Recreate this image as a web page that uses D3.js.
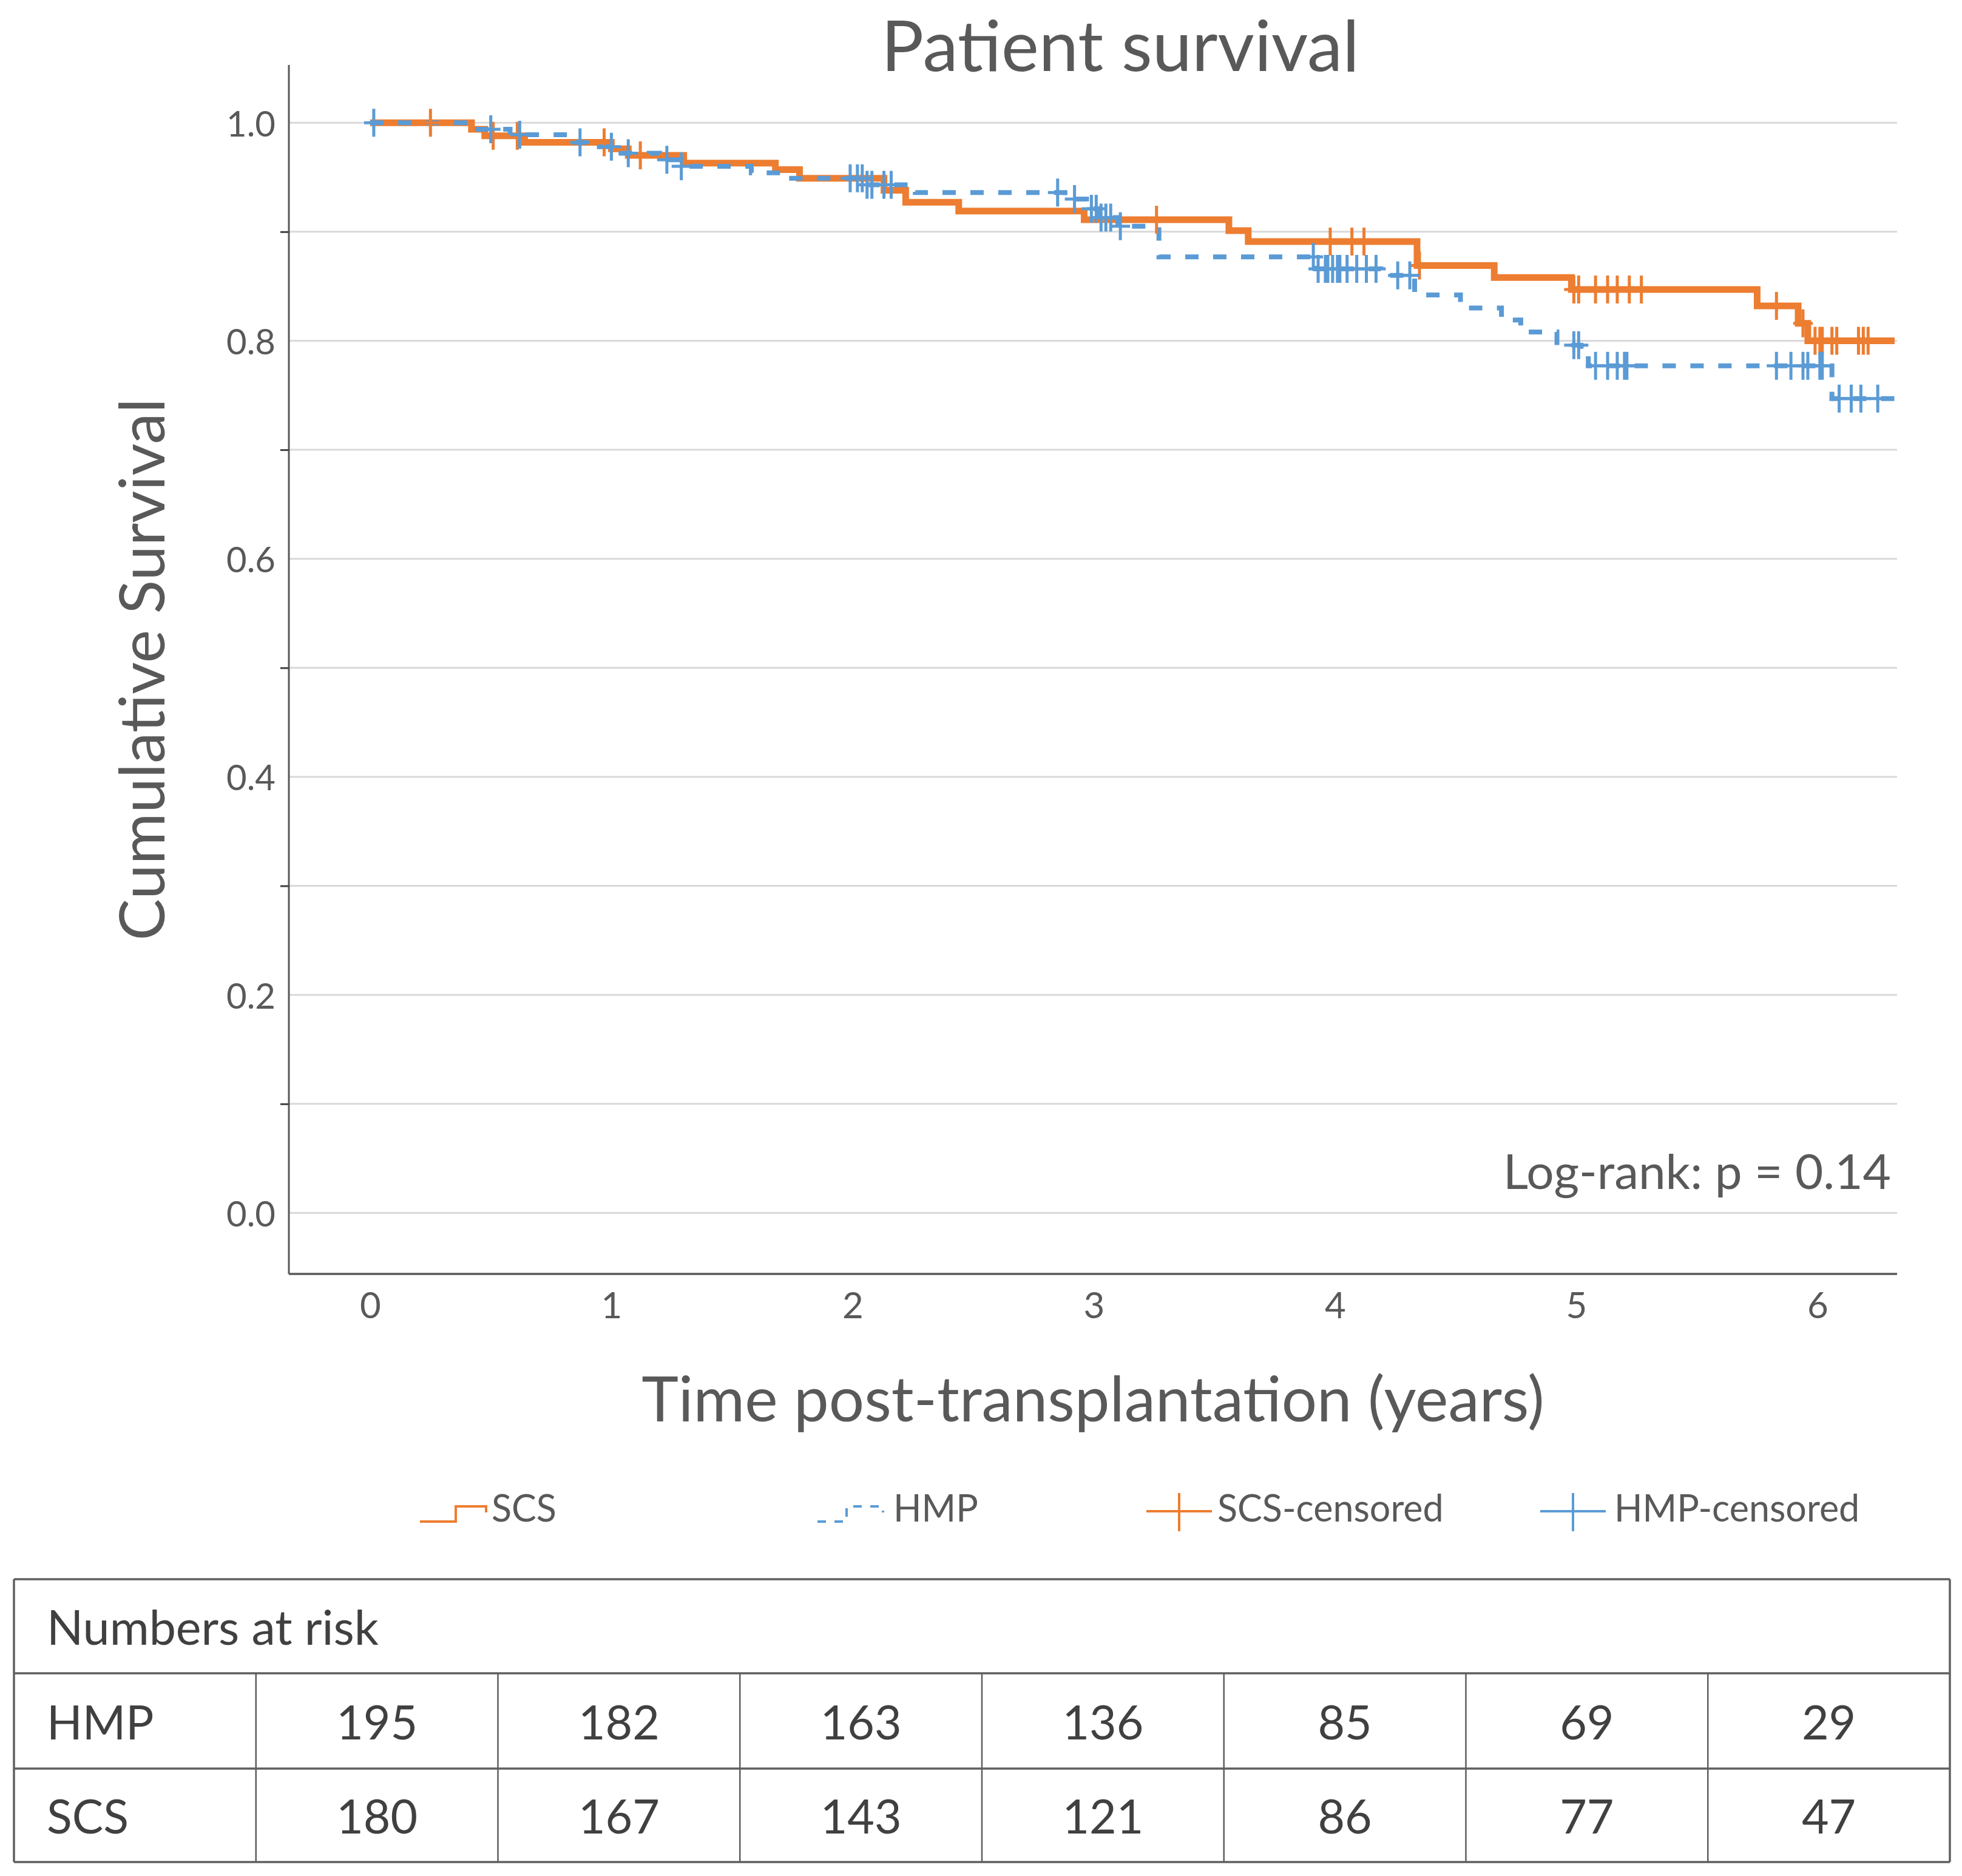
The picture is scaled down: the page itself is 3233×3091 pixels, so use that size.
<!DOCTYPE html>
<html>
<head>
<meta charset="utf-8">
<script src="https://cdn.jsdelivr.net/npm/d3@7"></script>
<style>
  body { margin: 0; background: #fff; }
  text { font-family: Lato, "Open Sans", sans-serif; }
</style>
</head>
<body>
<script>
// Kaplan-Meier steps (time in years, survival after the step)
var scsTimes = [0, 0.42, 0.475, 0.64, 1.0, 1.07, 1.30, 1.68, 1.78, 2.13, 2.22, 2.44, 2.96, 3.56, 3.64, 4.34, 4.66, 4.98, 5.75, 5.92, 5.96, 6.32];
var scsSurv  = [1.0, 0.994, 0.988, 0.982, 0.976, 0.970, 0.963, 0.957, 0.949, 0.938, 0.927, 0.919, 0.911, 0.901, 0.891, 0.869, 0.858, 0.847, 0.832, 0.816, 0.800, 0.800];

var hmpTimes = [0, 0.42, 0.58, 0.85, 0.95, 1.02, 1.20, 1.29, 1.58, 1.72, 2.05, 2.26, 2.88, 2.97, 3.02, 3.10, 3.27, 3.92, 4.19, 4.33, 4.52, 4.69, 4.77, 4.92, 5.02, 5.05, 6.06, 6.32];
var hmpSurv  = [1.0, 0.994, 0.989, 0.982, 0.978, 0.972, 0.966, 0.960, 0.954, 0.949, 0.943, 0.936, 0.930, 0.921, 0.913, 0.905, 0.877, 0.866, 0.860, 0.842, 0.830, 0.819, 0.808, 0.796, 0.788, 0.777, 0.747, 0.747];

// censored times
var scsCens = [0.25, 0.51, 0.61, 0.97, 1.12, 3.26, 3.98, 4.07, 4.12, 4.35, 4.99, 5.01, 5.08, 5.13, 5.17, 5.22, 5.27, 5.83, 5.94, 5.99, 6.01, 6.02, 6.06, 6.08, 6.17, 6.19, 6.21];
var hmpCens = [0.015, 0.50, 0.62, 0.87, 1.0, 1.07, 1.23, 1.29, 1.99, 2.02, 2.04, 2.06, 2.08, 2.13, 2.16, 2.85, 2.92, 2.99, 3.01, 3.03, 3.05, 3.07, 3.11,
               3.91, 3.93, 3.96, 3.97, 3.99, 4.01, 4.02, 4.05, 4.09, 4.13, 4.17, 4.26, 4.31, 4.99, 5.01, 5.08, 5.13, 5.17, 5.20, 5.21,
               5.83, 5.89, 5.94, 5.96, 6.01, 6.02, 6.09, 6.14, 6.18, 6.25];

var xTicks = [0, 1, 2, 3, 4, 5, 6];
var yLabelTicks = [0.0, 0.2, 0.4, 0.6, 0.8, 1.0];
var yMinorTicks = [0.1, 0.3, 0.5, 0.7, 0.9];
var yGrid = [0.0, 0.1, 0.2, 0.3, 0.4, 0.5, 0.6, 0.7, 0.8, 0.9, 1.0];

var riskCols = ["", "0", "1", "2", "3", "4", "5", "6"];
var riskGroups = ["HMP", "SCS"];
var riskHMP = [195, 182, 163, 136, 85, 69, 29];
var riskSCS = [180, 167, 143, 121, 86, 77, 47];

var legendLabels = ["SCS", "HMP", "SCS-censored", "HMP-censored"];

var orange = "#ED7D31", blue = "#5B9BD5", grey = "#595959", grid = "#d9d9d9";

var W = 3233, H = 3091;
var plot = {left: 476, right: 3126, top: 107, bottom: 2099};

var svg = d3.select("body").append("svg")
  .attr("width", W).attr("height", H);

var x = d3.scaleLinear().domain([-0.337, 6.33]).range([plot.left, plot.right]);
var y = d3.scaleLinear().domain([-0.056, 1.053]).range([plot.bottom, plot.top]);

// gridlines
svg.append("g").selectAll("line").data(yGrid).enter().append("line")
  .attr("x1", plot.left).attr("x2", plot.right)
  .attr("y1", d => y(d)).attr("y2", d => y(d))
  .style("stroke", grid).style("stroke-width", 3);

// y axis, only the odd values get a tick mark
var yAxis = svg.append("g").attr("transform", `translate(${plot.left},0)`)
  .call(d3.axisLeft(y).tickValues(yMinorTicks).tickSize(14).tickFormat(""));
yAxis.select(".domain").attr("d", `M0,${plot.top}V${plot.bottom}`)
  .style("stroke", grey).style("stroke-width", 3);
yAxis.selectAll(".tick line").style("stroke", "#404040").style("stroke-width", 3);

svg.append("g").selectAll("text").data(yLabelTicks).enter().append("text")
  .attr("x", 454).attr("y", d => y(d))
  .attr("text-anchor", "end").attr("dominant-baseline", "central")
  .style("font-size", "58px").style("fill", grey)
  .text(d => d.toFixed(1));

// x axis
var xAxis = svg.append("g").attr("transform", `translate(0,${plot.bottom})`)
  .call(d3.axisBottom(x).tickValues(xTicks).tickSize(0).tickPadding(0).tickFormat(d3.format("d")));
xAxis.select(".domain").attr("d", `M${plot.left},0H${plot.right}`)
  .style("stroke", grey).style("stroke-width", 3.5);
xAxis.selectAll(".tick text")
  .attr("y", 73).attr("dy", null)
  .style("font-size", "60px").style("font-family", "Lato, sans-serif").style("fill", grey);

// curves
function stepPoints(times, surv) {
  return times.map((t, i) => [t, surv[i]]);
}
function survAt(times, surv, t) {
  return surv[Math.max(0, d3.bisectRight(times, t) - 1)];
}
var stepLine = d3.line().x(d => x(d[0])).y(d => y(d[1])).curve(d3.curveStepAfter);

svg.append("path").datum(stepPoints(scsTimes, scsSurv))
  .attr("d", stepLine)
  .style("fill", "none").style("stroke", orange).style("stroke-width", 11);

svg.append("path").datum(stepPoints(hmpTimes, hmpSurv))
  .attr("d", stepLine)
  .style("fill", "none").style("stroke", blue).style("stroke-width", 8)
  .style("stroke-dasharray", "22,24");

function crosses(times, surv, cens, color) {
  var g = svg.append("g");
  g.selectAll("path").data(cens).enter().append("path")
    .attr("d", t => {
      var cx = x(t), cy = y(survAt(times, surv, t));
      return `M${cx - 16},${cy}H${cx + 16}M${cx},${cy - 23}V${cy + 23}`;
    })
    .style("fill", "none").style("stroke", color).style("stroke-width", 5);
}
crosses(scsTimes, scsSurv, scsCens, orange);
crosses(hmpTimes, hmpSurv, hmpCens, blue);

// titles
svg.append("text").attr("x", 1846).attr("y", 117)
  .attr("text-anchor", "middle")
  .style("font-size", "117px").style("fill", grey)
  .text("Patient survival");

svg.append("text")
  .attr("transform", "translate(231,1103) rotate(-90)")
  .attr("text-anchor", "middle").attr("dominant-baseline", "central")
  .style("font-size", "103px").style("fill", grey)
  .text("Cumulative Survival");

svg.append("text").attr("x", (plot.left + plot.right) / 2).attr("y", 2342)
  .attr("text-anchor", "middle")
  .style("font-size", "103px").style("fill", grey)
  .text("Time post-transplantation (years)");

svg.append("text").attr("x", 3116).attr("y", 1959)
  .attr("text-anchor", "end")
  .style("font-size", "80px").style("fill", grey)
  .text("Log-rank: p = 0.14");

// legend
var legX = [692, 1347, 1889, 2538];
var leg = svg.append("g");
var ly = 2507;
leg.append("path").attr("d", `M${legX[0]},${ly}H${legX[0] + 59}V${ly - 25}H${legX[0] + 109}V${ly - 15}`)
  .style("fill", "none").style("stroke", orange).style("stroke-width", 4);
leg.append("path").attr("d", `M${legX[1]},${ly}H${legX[1] + 48}V${ly - 25}H${legX[1] + 108}V${ly - 15}`)
  .style("fill", "none").style("stroke", blue).style("stroke-width", 4)
  .style("stroke-dasharray", "14,14");
[[legX[2], orange], [legX[3], blue]].forEach(function(p) {
  leg.append("path")
    .attr("d", `M${p[0]},${ly - 17}H${p[0] + 108}M${p[0] + 54},${ly - 47}V${ly + 16}`)
    .style("fill", "none").style("stroke", p[1]).style("stroke-width", 4);
});
var legTextX = [810, 1472, 2006, 2660];
leg.selectAll("text").data(legendLabels).enter().append("text")
  .attr("x", (d, i) => legTextX[i]).attr("y", ly)
  .style("font-size", "61px").style("fill", grey)
  .text(d => d);

// numbers at risk table
var tbl = {left: 23, right: 3213, rows: [2602, 2757, 2914, 3068]};
var colX = d3.scaleBand().domain(riskCols).range([tbl.left, tbl.right]);
var tg = svg.append("g");
var lineCol = "#5f5f5f";

tg.selectAll("line.h").data(tbl.rows).enter().append("line")
  .attr("class", "h")
  .attr("x1", tbl.left).attr("x2", tbl.right)
  .attr("y1", d => d).attr("y2", d => d)
  .style("stroke", lineCol).style("stroke-width", 3.5);

tg.selectAll("line.v").data(riskCols.slice(1)).enter().append("line")
  .attr("class", "v")
  .attr("x1", d => colX(d)).attr("x2", d => colX(d))
  .attr("y1", tbl.rows[1]).attr("y2", tbl.rows[3])
  .style("stroke", lineCol).style("stroke-width", 2.5);

[tbl.left, tbl.right].forEach(function(xx) {
  tg.append("line").attr("x1", xx).attr("x2", xx)
    .attr("y1", tbl.rows[0]).attr("y2", tbl.rows[3])
    .style("stroke", lineCol).style("stroke-width", 3.5);
});

var txtCol = "#404040";
tg.append("text").attr("x", 77).attr("y", (tbl.rows[0] + tbl.rows[1]) / 2)
  .attr("dominant-baseline", "central")
  .style("font-size", "79px").style("fill", txtCol)
  .text("Numbers at risk");

[riskHMP, riskSCS].forEach(function(vals, r) {
  var cy = (tbl.rows[r + 1] + tbl.rows[r + 2]) / 2;
  tg.append("text").attr("x", 77).attr("y", cy)
    .attr("dominant-baseline", "central")
    .style("font-size", "77px").style("fill", txtCol)
    .text(riskGroups[r]);
  tg.selectAll("text.v" + r).data(vals).enter().append("text")
    .attr("class", "v" + r)
    .attr("x", (d, i) => colX(riskCols[i + 1]) + colX.bandwidth() / 2)
    .attr("y", cy)
    .attr("text-anchor", "middle").attr("dominant-baseline", "central")
    .style("font-size", "77px").style("fill", txtCol)
    .text(d => d);
});
</script>
</body>
</html>
